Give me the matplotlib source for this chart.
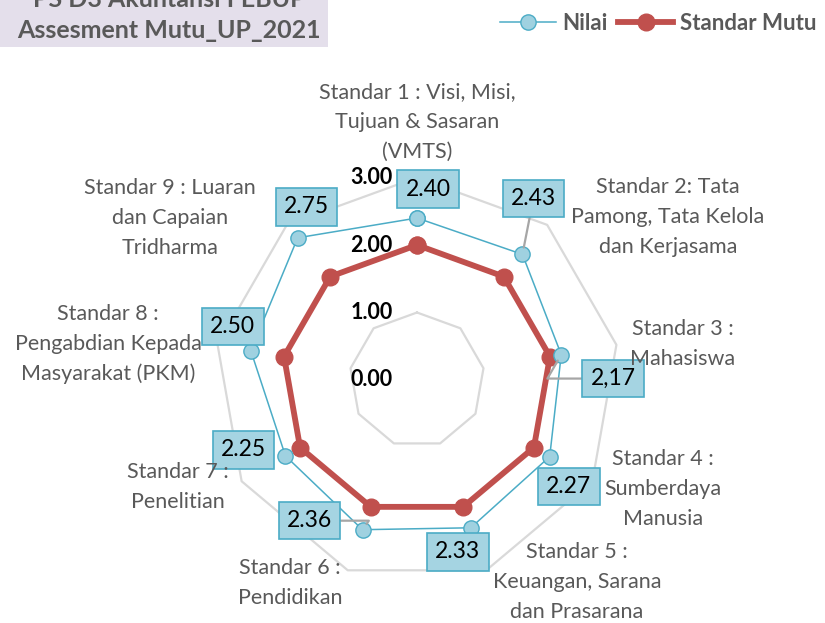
import numpy as np
import matplotlib
matplotlib.use("Agg")
import matplotlib.pyplot as plt
from matplotlib.patches import Rectangle

plt.rcParams['font.family'] = ['Lato', 'DejaVu Sans']

categories = [
    "Standar 1 : Visi, Misi,\nTujuan & Sasaran\n(VMTS)",
    "Standar 2: Tata\nPamong, Tata Kelola\ndan Kerjasama",
    "Standar 3 :\nMahasiswa",
    "Standar 4 :\nSumberdaya\nManusia",
    "Standar 5 :\nKeuangan, Sarana\ndan Prasarana",
    "Standar 6 :\nPendidikan",
    "Standar 7 :\nPenelitian",
    "Standar 8 :\nPengabdian Kepada\nMasyarakat (PKM)",
    "Standar 9 : Luaran\ndan Capaian\nTridharma",
]
nilai = [2.40, 2.43, 2.17, 2.27, 2.33, 2.36, 2.25, 2.50, 2.75]
nilai_labels = ["2.40", "2.43", "2,17", "2.27", "2.33", "2.36", "2.25", "2.50", "2.75"]
standar_mutu = [2.00] * 9
grid_levels = [0.0, 1.0, 2.0, 3.0]

# pixel layout of the picture
W, H, DPI = 825, 623, 100
cx, cy, unit = 417, 380, 67.5

fig = plt.figure(figsize=(W / DPI, H / DPI), dpi=DPI)
ax = fig.add_axes([0, 0, 1, 1])
ax.set_xlim(-cx / unit, (W - cx) / unit)
ax.set_ylim(-(H - cy) / unit, cy / unit)
ax.axis("off")

n = len(categories)
ang = np.arange(n) * 2 * np.pi / n
sx, sy = np.sin(ang), np.cos(ang)

def ring(vals):
    vals = np.asarray(vals, dtype=float)
    x = vals * sx
    y = vals * sy
    return np.append(x, x[0]), np.append(y, y[0])

# grid polygons
for lv in grid_levels[1:]:
    gx, gy = ring([lv] * n)
    ax.plot(gx, gy, color="#d9d9d9", lw=1.6, zorder=1)

# radial tick labels
for lv in grid_levels:
    ax.text(-0.36, lv, f"{lv:.2f}", ha="right", va="center",
            fontsize=15.5, fontweight="bold", color="black", zorder=2)

# series
mx, my = ring(standar_mutu)
ax.plot(mx, my, color="#c0504d", lw=4.2, marker="o", ms=12,
        mfc="#c0504d", mec="#c0504d", zorder=3, label="Standar Mutu")
nx, ny = ring(nilai)
ax.plot(nx, ny, color="#4bacc6", lw=1.1, marker="o", ms=11,
        mfc="#9fd1e0", mec="#4bacc6", mew=1.0, zorder=5, label="Nilai")

# data label boxes (offsets in pixels) and leader lines
offsets = [(11, 29), (11, 56), (52, -24), (19, -30), (-13, -24),
           (-53, 9), (-42, 6), (-18, 24), (9, 31)]
leaders = {1: "arc3", 2: "angle,angleA=0,angleB=60", 5: "angle,angleA=0,angleB=55"}
for i, (lab, off) in enumerate(zip(nilai_labels, offsets)):
    ap = None
    if i in leaders:
        ap = dict(arrowstyle="-", color="#a6a6a6", lw=1.6,
                  shrinkA=0, shrinkB=5, connectionstyle=leaders[i])
    ax.annotate(lab, (nx[i], ny[i]), xytext=off, textcoords="offset pixels",
                ha="center", va="center", fontsize=16.5, color="black",
                bbox=dict(boxstyle="square,pad=0.36", fc="#a5d4e2",
                          ec="#4bacc6", lw=1.2),
                arrowprops=ap, zorder=6)

# category labels (pixel anchors of text centres)
cat_pos = [(417, 122), (668, 217), (683, 344), (663, 489), (577, 582),
           (290, 583), (178, 487), (108, 344), (170, 218)]
for lab, (px, py) in zip(categories, cat_pos):
    fig.text(px / W, 1 - py / H, lab, ha="center", va="center",
             fontsize=15.5, color="#595959", linespacing=1.6)

# title box
fig.patches.append(Rectangle((0, 1 - 47 / H), 328 / W, 47 / H,
                             transform=fig.transFigure, fc="#e4dfeb",
                             ec="none", zorder=0))
fig.text(169 / W, 1 - 42 / H, "PS D3 Akuntansi FEBUP\nAssesment Mutu_UP_2021",
         ha="center", va="bottom", fontsize=18, fontweight="bold",
         color="#595959", linespacing=1.4)

# legend
h, l = ax.get_legend_handles_labels()
leg = fig.legend(h[::-1], l[::-1], loc="upper right", bbox_to_anchor=(1.014, 1.012),
                 ncol=2, frameon=False, handlelength=2.5, handletextpad=0.3,
                 columnspacing=0.45, prop=dict(size=16, weight="bold"))
for t in leg.get_texts():
    t.set_color("#595959")

fig.savefig("out.png", dpi=DPI)
